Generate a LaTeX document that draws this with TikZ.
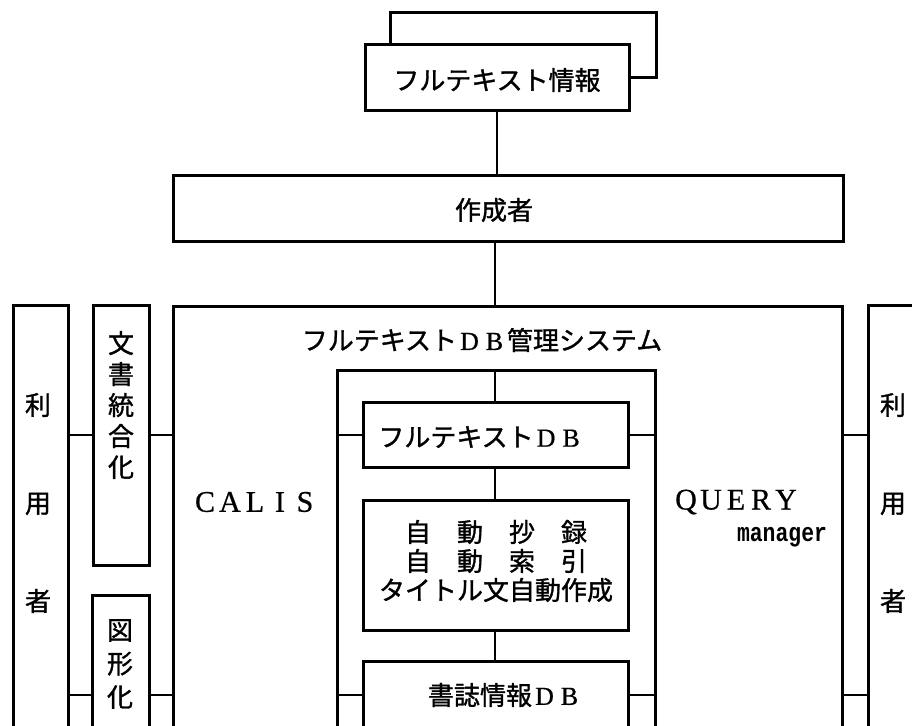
\documentclass[tikz,border=0pt]{standalone}
\usepackage{fontspec}
\newfontfamily\jpfont[FakeBold=1.2]{Noto Sans CJK JP}
\newfontfamily\latserif[FakeBold=0.6]{Liberation Serif}
\newfontfamily\latmono{Liberation Mono}
\newcommand\jsz{\fontsize{26}{31}\selectfont}
\newcommand\wl[1]{\makebox[25pt]{#1}}
\newcommand\myDB{{\latserif\wl{D}\wl{B}}}
\begin{document}
\begin{tikzpicture}[x=1pt,y=-1pt,line width=3pt,
  box/.style={draw,fill=white,inner sep=0pt,outer sep=0pt,line join=miter},
  lbl/.style={inner sep=0pt,font=\jpfont\jsz,align=center},
  wire/.style={line width=2.8pt}]
\path[use as bounding box] (0,0) rectangle (912,725);
\clip (0,0) rectangle (912,725);
% boxes
\node[box,minimum width=266pt,minimum height=64pt] (back) at (523,45) {};
\node[box,minimum width=264pt,minimum height=65pt] (info) at (497,77.5) {};
\node[box,minimum width=670pt,minimum height=66pt] (author) at (508,208) {};
\node[box,minimum width=669pt,minimum height=439pt] (sys) at (507.5,525.5) {};
\node[box,minimum width=55pt,minimum height=440pt] (userL) at (40.5,525) {};
\node[box,minimum width=56pt,minimum height=260pt] (docint) at (121,435) {};
\node[box,minimum width=57pt,minimum height=150pt] (fig) at (120.5,670) {};
\node[box,minimum width=56pt,minimum height=440pt] (userR) at (896,525) {};
\node[box,minimum width=318pt,minimum height=375pt] (inner) at (496,557.5) {};
\node[box,minimum width=265pt,minimum height=65pt] (ftdb) at (495.5,434.5) {};
\node[box,minimum width=265pt,minimum height=130pt] (auto) at (495.5,565) {};
\node[box,minimum width=265pt,minimum height=84pt] (bib) at (495.5,703) {};
% helper coordinates
\coordinate (ya) at (0,435);
\coordinate (yb) at (0,695);
\coordinate (xm) at (495,0);
% connectors
\draw[wire] (info.south) -- (info.south |- author.north);
\draw[wire] (xm |- author.south) -- (xm |- sys.north);
\draw[wire] (xm |- inner.north) -- (xm |- ftdb.north);
\draw[wire] (xm |- ftdb.south) -- (xm |- auto.north);
\draw[wire] (xm |- auto.south) -- (xm |- bib.north);
\draw[wire] (userL.east |- ya) -- (docint.west |- ya);
\draw[wire] (docint.east |- ya) -- (sys.west |- ya);
\draw[wire] (inner.west |- ya) -- (ftdb.west |- ya);
\draw[wire] (ftdb.east |- ya) -- (inner.east |- ya);
\draw[wire] (sys.east |- ya) -- (userR.west |- ya);
\draw[wire] (userL.east |- yb) -- (fig.west |- yb);
\draw[wire] (fig.east |- yb) -- (sys.west |- yb);
\draw[wire] (inner.west |- yb) -- (bib.west |- yb);
\draw[wire] (bib.east |- yb) -- (inner.east |- yb);
\draw[wire] (sys.east |- yb) -- (userR.west |- yb);
% labels
\node[lbl] (tinfo) at (497,80) {フルテキスト情報};
\node[lbl] (tauthor) at (494,210) {作成者};
\node[lbl] (tsys) at (482,340) {フルテキスト\myDB{}管理システム};
\node[lbl] (tftdb) at (481,437) {フルテキスト\myDB};
\node[lbl,font=\jpfont\fontsize{26}{29}\selectfont] (tauto) at (496,561) {自　動　抄　録\\自　動　索　引\\タイトル文自動作成};
\node[lbl] (tbib) at (505,695) {書誌情報\myDB};
\node[lbl,font=\latserif\fontsize{30}{36}\selectfont] (tcalis) at (255,502) {\wl{C}\wl{A}\wl{L}\wl{I}\wl{S}};
\node[lbl,font=\latserif\fontsize{30}{36}\selectfont] (tquery) at (736,502) {\wl{Q}\wl{U}\wl{E}\wl{R}\wl{Y}};
\node[lbl,font=\latmono\bfseries\fontsize{21}{24}\selectfont] (tman) at (782,537) {\scalebox{1.02}[1.25]{manager}};
\node[lbl,font=\jpfont\fontsize{26}{31}\selectfont] (tdoc) at (121,405) {文\\書\\統\\合\\化};
\node[lbl,font=\jpfont\fontsize{26}{33.5}\selectfont] (tfig) at (120,664) {図\\形\\化};
\node[lbl,font=\jpfont\fontsize{26}{98}\selectfont] (tuserL) at (38,503) {利\\用\\者};
\node[lbl,font=\jpfont\fontsize{26}{98}\selectfont] (tuserR) at (893,503) {利\\用\\者};
\end{tikzpicture}
\end{document}
